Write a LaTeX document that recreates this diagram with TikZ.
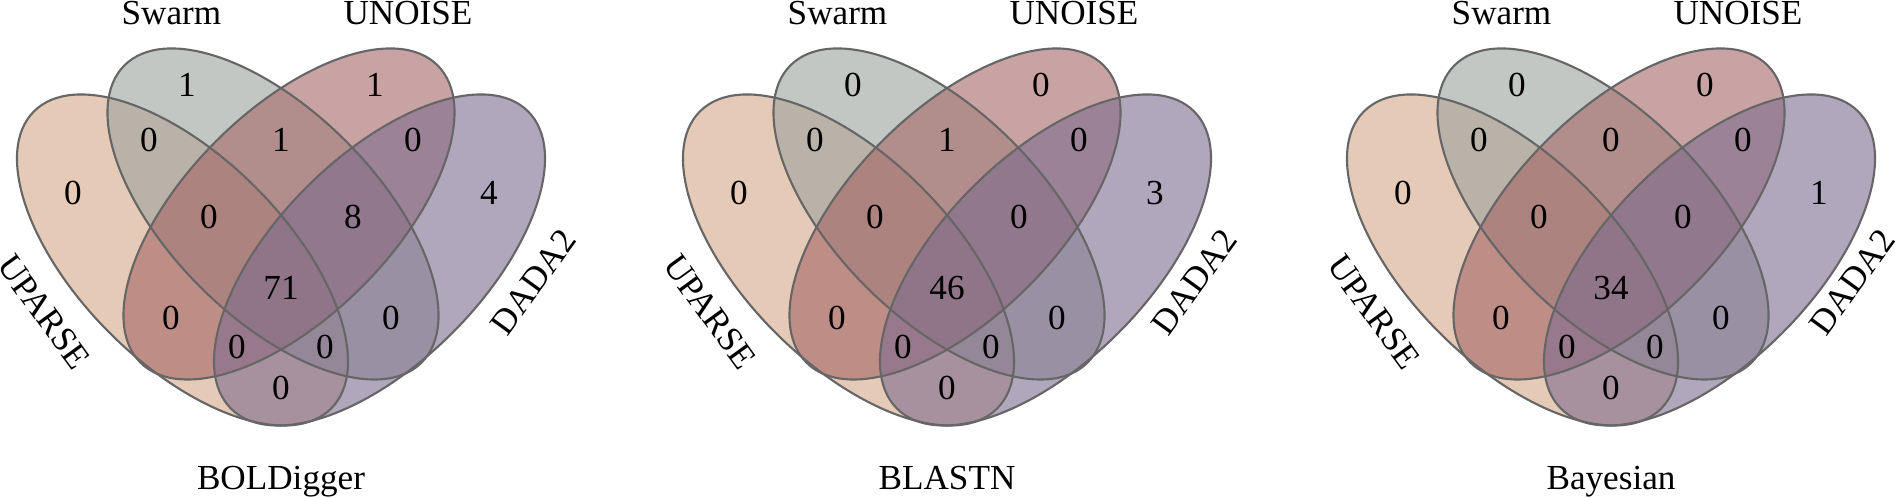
\documentclass[tikz,border=0pt]{standalone}
\usepackage{fontspec}
\setmainfont{Liberation Serif}
\usetikzlibrary{positioning}

\definecolor{uparse}{RGB}{213,167,137}
\definecolor{swarm}{RGB}{155,162,157}
\definecolor{unoise}{RGB}{165,102,102}
\definecolor{dada}{RGB}{125,108,143}
\definecolor{rand}{RGB}{102,102,102}

\begin{document}
\begin{tikzpicture}[x=0.01cm, y=0.01cm,
    menge/.style={fill opacity=0.6},
    umriss/.style={draw=rand, line width=0.6pt},
    zahl/.style={inner sep=1pt},
    etikett/.style={inner sep=1pt}]

    \useasboundingbox (0,0) rectangle (1900,498);

    % Diagramme
    \foreach \ax/\titel/\dx [count=\p] in {281/BOLDigger/252, 947/BLASTN/247, 1611/Bayesian/241} {
      \begin{scope}[shift={(\ax,0)}]
        % Mengen
        \foreach \cx/\cy/\w/\farbe in {-98.5/238/-45/uparse, -8/284/-45/swarm, 8/284/45/unoise, 98.5/238/45/dada}
          \fill[menge, fill=\farbe, rotate around={\w:(\cx,\cy)}] (\cx,\cy) ellipse [x radius=2.1cm, y radius=1.03cm];
        \foreach \cx/\cy/\w in {-98.5/238/-45, -8/284/-45, 8/284/45, 98.5/238/45}
          \draw[umriss, rotate around={\w:(\cx,\cy)}] (\cx,\cy) ellipse [x radius=2.1cm, y radius=1.03cm];
        % Bereiche
        \foreach \r/\x/\y in {u/-208/305, s/-94/413, n/94/413, d/208/305,
                              us/-132/358, sn/0/358, nd/132/358,
                              usn/-72/281, snd/72/281, usnd/0/210,
                              un/-110/180, sd/110/180, und/-44/151, usd/44/151, ud/0/110}
          \coordinate (p\p-\r) at (\x,\y);
        % Beschriftung
        \node[etikett, anchor=base] (p\p-swarm) at (-109.5,473) {Swarm};
        \node[etikett, anchor=base] (p\p-unoise) at (127,473) {UNOISE};
        \node[etikett, rotate=-54] (p\p-uparse) at (-237,186) {UPARSE};
        \node[etikett, rotate=54] (p\p-dada) at (\dx,216) {DADA2};
        \node[etikett, anchor=base] (p\p-titel) at (0,8) {\titel};
      \end{scope}
    }

    % Zahlen
    \foreach \r/\n in {u/0, s/1, n/1, d/4, us/0, sn/1, nd/0, usn/0, snd/8, usnd/71,
                       un/0, sd/0, und/0, usd/0, ud/0}
      \node[zahl] (z1-\r) at (p1-\r) {\n};
    \foreach \r/\n in {u/0, s/0, n/0, d/3, us/0, sn/1, nd/0, usn/0, snd/0, usnd/46,
                       un/0, sd/0, und/0, usd/0, ud/0}
      \node[zahl] (z2-\r) at (p2-\r) {\n};
    \foreach \r/\n in {u/0, s/0, n/0, d/1, us/0, sn/0, nd/0, usn/0, snd/0, usnd/34,
                       un/0, sd/0, und/0, usd/0, ud/0}
      \node[zahl] (z3-\r) at (p3-\r) {\n};

\end{tikzpicture}
\end{document}
